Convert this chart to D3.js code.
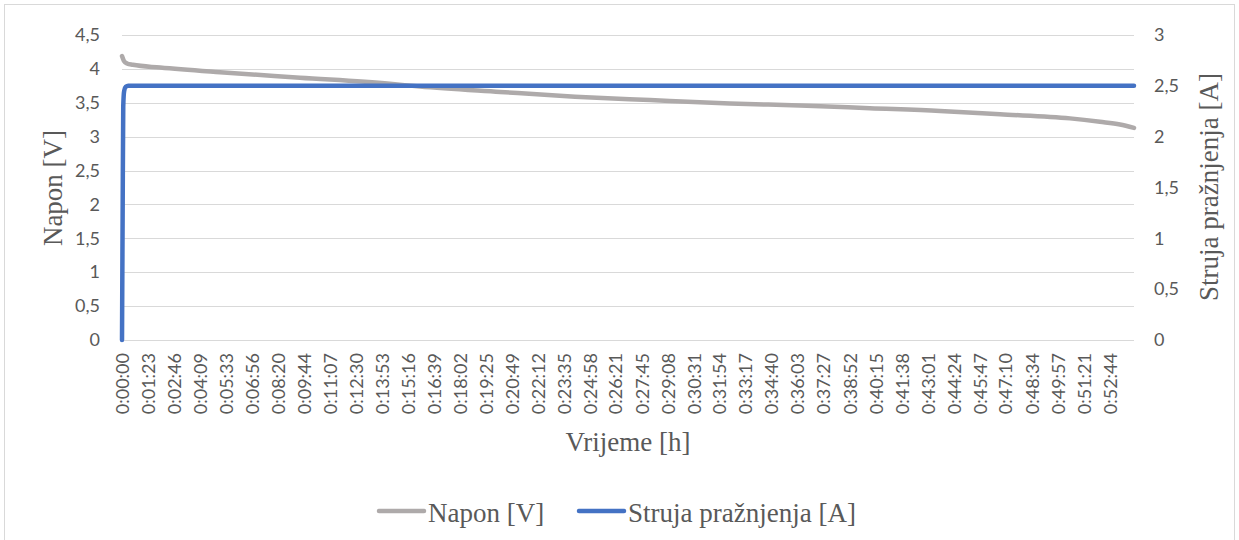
<!DOCTYPE html>
<html>
<head>
<meta charset="utf-8">
<script src="https://cdn.jsdelivr.net/npm/d3@7"></script>
<style>
    body { margin: 0; background: #fff; }
    svg { display: block; }
    .tick text { font-family: Lato, sans-serif; font-size: 18px; fill: #595959; }
    .title { font-family: "Liberation Serif", serif; font-size: 27px; fill: #595959; }
</style>
</head>
<body>
<svg id="chart"></svg>
<script>
// x axis category labels (h:mm:ss)
const timeLabels = ["0:00:00", "0:01:23", "0:02:46", "0:04:09", "0:05:33", "0:06:56", "0:08:20", "0:09:44",
    "0:11:07", "0:12:30", "0:13:53", "0:15:16", "0:16:39", "0:18:02", "0:19:25", "0:20:49", "0:22:12",
    "0:23:35", "0:24:58", "0:26:21", "0:27:45", "0:29:08", "0:30:31", "0:31:54", "0:33:17", "0:34:40",
    "0:36:03", "0:37:27", "0:38:52", "0:40:15", "0:41:38", "0:43:01", "0:44:24", "0:45:47", "0:47:10",
    "0:48:34", "0:49:57", "0:51:21", "0:52:44"];

// Napon [V]
const naponTime = ["0:00:00", "0:00:06", "0:00:16", "0:00:35", "0:02:02", "0:05:14", "0:09:30", "0:14:18",
    "0:15:54", "0:20:11", "0:24:11", "0:28:11", "0:32:27", "0:36:11", "0:39:55", "0:43:40", "0:46:52",
    "0:50:36", "0:52:12", "0:53:16", "0:54:01"];
const napon = [4.19, 4.12, 4.08, 4.06, 4.02, 3.95, 3.87, 3.78, 3.74, 3.66, 3.59, 3.54, 3.49, 3.46, 3.42,
    3.38, 3.33, 3.27, 3.22, 3.18, 3.13];

// Struja pražnjenja [A]
const strujaTime = ["0:00:00", "0:00:02", "0:00:04", "0:00:07", "0:00:12", "0:00:20", "0:15:00", "0:30:00",
    "0:45:00", "0:54:01"];
const struja = [0, 1.2, 2.3, 2.45, 2.49, 2.5, 2.5, 2.5, 2.5, 2.5];

const leftTicks = [0, 0.5, 1, 1.5, 2, 2.5, 3, 3.5, 4, 4.5];
const rightTicks = [0, 0.5, 1, 1.5, 2, 2.5, 3];

const seriesNames = ["Napon [V]", "Struja pražnjenja [A]"];
const colors = ["#AEAAAA", "#4472C4"];

const toSec = s => {
    const [h, m, sec] = s.split(":").map(Number);
    return h * 3600 + m * 60 + sec;
};
const comma = d => String(d).replace(".", ",");

const width = 1239, height = 540;
const plot = { left: 122, right: 1134, top: 35, bottom: 340 };

const svg = d3.select("#chart").attr("width", width).attr("height", height);

// chart border
svg.append("rect")
    .attr("x", 4.5).attr("y", 4.5)
    .attr("width", 1230).attr("height", 600)
    .attr("fill", "none").attr("stroke", "#D9D9D9");

const x = d3.scaleLinear().domain([0, toSec("0:54:01")]).range([plot.left, plot.right]);
const yL = d3.scaleLinear().domain([0, 4.5]).range([plot.bottom, plot.top]);
const yR = d3.scaleLinear().domain([0, 3]).range([plot.bottom, plot.top]);

// gridlines
svg.append("g").selectAll("line")
    .data(leftTicks)
    .join("line")
    .attr("x1", plot.left).attr("x2", plot.right)
    .attr("y1", d => Math.round(yL(d)) + 0.5).attr("y2", d => Math.round(yL(d)) + 0.5)
    .attr("stroke", "#D9D9D9").attr("stroke-width", 1);

// axes
const leftAxis = svg.append("g")
    .attr("transform", `translate(${plot.left},0)`)
    .call(d3.axisLeft(yL).tickValues(leftTicks).tickFormat(comma).tickSize(0).tickPadding(22));
leftAxis.select(".domain").remove();

const rightAxis = svg.append("g")
    .attr("transform", `translate(${plot.right},0)`)
    .call(d3.axisRight(yR).tickValues(rightTicks).tickFormat(comma).tickSize(0).tickPadding(20));
rightAxis.select(".domain").remove();

const xAxis = svg.append("g")
    .attr("transform", `translate(0,${plot.bottom})`)
    .call(d3.axisBottom(x).tickValues(timeLabels.map(toSec))
        .tickFormat((d, i) => timeLabels[i]).tickSize(0));
xAxis.select(".domain").remove();
xAxis.selectAll("text")
    .attr("transform", "rotate(-90)")
    .attr("x", -13).attr("y", 0)
    .attr("dy", "0.35em")
    .attr("text-anchor", "end");
svg.selectAll(".tick text").attr("font-family", null).attr("font-size", null).attr("fill", null);

// lines
const line = (yScale) => d3.line()
    .x(d => x(d.t))
    .y(d => yScale(d.v))
    .curve(d3.curveMonotoneX);

const naponData = naponTime.map((t, i) => ({ t: toSec(t), v: napon[i] }));
const strujaData = strujaTime.map((t, i) => ({ t: toSec(t), v: struja[i] }));

svg.append("path")
    .datum(naponData)
    .attr("d", line(yL))
    .attr("fill", "none").attr("stroke", colors[0])
    .attr("stroke-width", 4.5).attr("stroke-linecap", "round").attr("stroke-linejoin", "round");

svg.append("path")
    .datum(strujaData)
    .attr("d", line(yR))
    .attr("fill", "none").attr("stroke", colors[1])
    .attr("stroke-width", 4.5).attr("stroke-linecap", "round").attr("stroke-linejoin", "round");

// axis titles
svg.append("text").attr("class", "title")
    .attr("transform", "translate(62,188) rotate(-90)")
    .attr("text-anchor", "middle")
    .text("Napon [V]");

svg.append("text").attr("class", "title")
    .attr("transform", "translate(1218,187) rotate(-90)")
    .attr("text-anchor", "middle")
    .text("Struja pražnjenja [A]");

svg.append("text").attr("class", "title")
    .attr("x", (plot.left + plot.right) / 2).attr("y", 451)
    .attr("text-anchor", "middle")
    .text("Vrijeme [h]");

// legend
const legendX = [379, 579];
const legend = svg.append("g").selectAll("g")
    .data(seriesNames)
    .join("g")
    .attr("transform", (d, i) => `translate(${legendX[i]},511)`);

legend.append("line")
    .attr("x1", 0).attr("x2", 45)
    .attr("stroke", (d, i) => colors[i])
    .attr("stroke-width", 4.5).attr("stroke-linecap", "round");

legend.append("text").attr("class", "title")
    .attr("x", 49).attr("y", 11)
    .text(d => d);
</script>
</body>
</html>
